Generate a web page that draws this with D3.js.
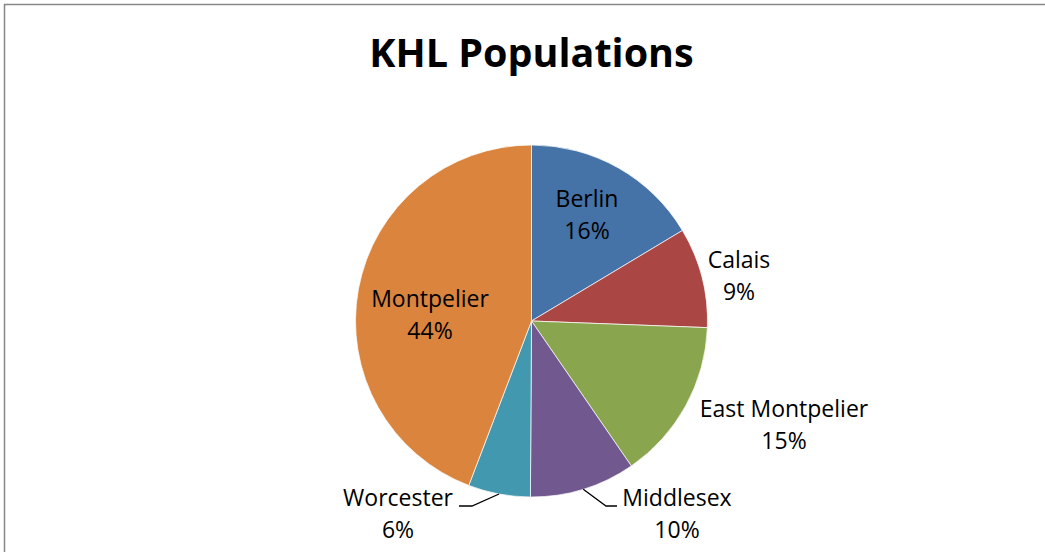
<!DOCTYPE html>
<html>
<head>
<meta charset="utf-8">
<script src="https://cdn.jsdelivr.net/npm/d3@7"></script>
<style>
  body { margin: 0; background: #fff; }
  text { font-family: "Open Sans", Lato, sans-serif; fill: #000; }
</style>
</head>
<body>
<script>
const towns = ['Berlin', 'Calais', 'East Montpelier', 'Middlesex', 'Worcester', 'Montpelier']
const shares = [16.4, 9.2, 14.8, 9.7, 5.7, 44.2]
const colors = ['#4572A7', '#AA4643', '#89A54E', '#71588F', '#4198AF', '#DB843D']

function drawChart() {
  const width = 1045, height = 552
  const cx = 531.5, cy = 321, radius = 176

  const svg = d3.select('body').append('svg')
    .attr('width', width)
    .attr('height', height)

  // chart frame (right/bottom edges run off the picture)
  svg.append('rect')
    .attr('x', 4.5).attr('y', 4.5)
    .attr('width', 1100).attr('height', 600)
    .attr('fill', 'none')
    .attr('stroke', '#868686')
    .attr('stroke-width', 1.5)

  svg.append('text')
    .attr('x', cx).attr('y', 67)
    .attr('text-anchor', 'middle')
    .style('font-size', '39.5px')
    .style('font-weight', 'bold')
    .text('KHL Populations')

  const data = towns.map(function(t, i) { return {town: t, value: shares[i], color: colors[i]} })
  const total = d3.sum(shares)

  const pie = d3.pie().sort(null).value(function(d) { return d.value })
  const arc = d3.arc().innerRadius(0).outerRadius(radius)
  const arcs = pie(data)

  const g = svg.append('g').attr('transform', 'translate(' + cx + ',' + cy + ')')

  g.selectAll('path.slice')
    .data(arcs)
    .enter().append('path')
    .attr('class', 'slice')
    .attr('d', arc)
    .attr('fill', function(d) { return d.data.color })
    .attr('stroke', '#fff')
    .attr('stroke-width', 0.7)

  // label placement relative to centre (first-line baseline), plus leader elbows
  const layout = {
    'Berlin': {dx: 55.5, dy: -113.7},
    'Calais': {dx: 207.5, dy: -52.7},
    'East Montpelier': {dx: 252.5, dy: 96.3},
    'Middlesex': {dx: 145.5, dy: 185.3, elbow: [74.5, 185], end: [85.5, 185]},
    'Worcester': {dx: -133.5, dy: 185.3, elbow: [-59.5, 185], end: [-72.5, 185]},
    'Montpelier': {dx: -101.5, dy: -13.7}
  }

  arcs.forEach(function(a) {
    const L = layout[a.data.town]
    if (L.elbow) {
      const mid = (a.startAngle + a.endAngle) / 2
      const sx = Math.sin(mid) * radius, sy = -Math.cos(mid) * radius
      g.append('polyline')
        .attr('points', [[sx, sy], L.elbow, L.end].map(function(p) { return p.join(',') }).join(' '))
        .attr('fill', 'none')
        .attr('stroke', '#000')
        .attr('stroke-width', 1.3)
    }
    const t = g.append('text')
      .attr('text-anchor', 'middle')
      .style('font-size', '23px')
    t.append('tspan').attr('x', L.dx).attr('y', L.dy).text(a.data.town)
    t.append('tspan').attr('x', L.dx).attr('y', L.dy + 32)
      .text(Math.round(a.data.value / total * 100) + '%')
  })
}

drawChart()
</script>
</body>
</html>
